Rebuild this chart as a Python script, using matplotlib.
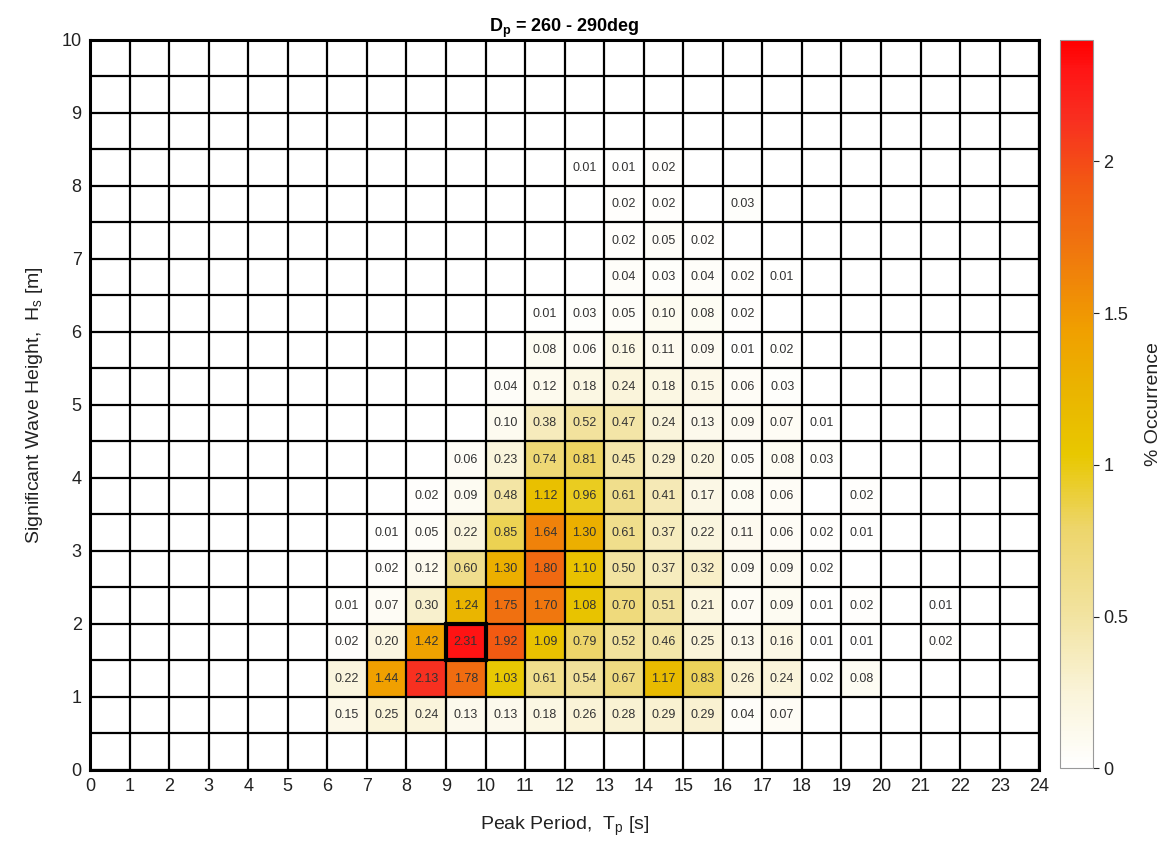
import matplotlib
matplotlib.use("Agg")
import matplotlib.pyplot as plt
import numpy as np
from matplotlib.colors import LinearSegmentedColormap
from matplotlib.patches import Rectangle

plt.rcParams['font.family'] = ['Liberation Sans Narrow', 'Liberation Sans', 'DejaVu Sans']

# bins
tp_edges = np.arange(0, 25, 1)
hs_edges = np.arange(0, 10.5, 0.5)
tp_first = 6  # first Tp bin that appears in the rows below
hs_first = 0.5

# % occurrence, one list per Hs bin (0.5 - 8.0 m), Tp bins 6..21 s
hs_050 = [0.15, 0.25, 0.24, 0.13, 0.13, 0.18, 0.26, 0.28, 0.29, 0.29, 0.04, 0.07, 0, 0, 0, 0]
hs_100 = [0.22, 1.44, 2.13, 1.78, 1.03, 0.61, 0.54, 0.67, 1.17, 0.83, 0.26, 0.24, 0.02, 0.08, 0, 0]
hs_150 = [0.02, 0.20, 1.42, 2.31, 1.92, 1.09, 0.79, 0.52, 0.46, 0.25, 0.13, 0.16, 0.01, 0.01, 0, 0.02]
hs_200 = [0.01, 0.07, 0.30, 1.24, 1.75, 1.70, 1.08, 0.70, 0.51, 0.21, 0.07, 0.09, 0.01, 0.02, 0, 0.01]
hs_250 = [0, 0.02, 0.12, 0.60, 1.30, 1.80, 1.10, 0.50, 0.37, 0.32, 0.09, 0.09, 0.02, 0, 0, 0]
hs_300 = [0, 0.01, 0.05, 0.22, 0.85, 1.64, 1.30, 0.61, 0.37, 0.22, 0.11, 0.06, 0.02, 0.01, 0, 0]
hs_350 = [0, 0, 0.02, 0.09, 0.48, 1.12, 0.96, 0.61, 0.41, 0.17, 0.08, 0.06, 0, 0.02, 0, 0]
hs_400 = [0, 0, 0, 0.06, 0.23, 0.74, 0.81, 0.45, 0.29, 0.20, 0.05, 0.08, 0.03, 0, 0, 0]
hs_450 = [0, 0, 0, 0, 0.10, 0.38, 0.52, 0.47, 0.24, 0.13, 0.09, 0.07, 0.01, 0, 0, 0]
hs_500 = [0, 0, 0, 0, 0.04, 0.12, 0.18, 0.24, 0.18, 0.15, 0.06, 0.03, 0, 0, 0, 0]
hs_550 = [0, 0, 0, 0, 0, 0.08, 0.06, 0.16, 0.11, 0.09, 0.01, 0.02, 0, 0, 0, 0]
hs_600 = [0, 0, 0, 0, 0, 0.01, 0.03, 0.05, 0.10, 0.08, 0.02, 0, 0, 0, 0, 0]
hs_650 = [0, 0, 0, 0, 0, 0, 0, 0.04, 0.03, 0.04, 0.02, 0.01, 0, 0, 0, 0]
hs_700 = [0, 0, 0, 0, 0, 0, 0, 0.02, 0.05, 0.02, 0, 0, 0, 0, 0, 0]
hs_750 = [0, 0, 0, 0, 0, 0, 0, 0.02, 0.02, 0, 0.03, 0, 0, 0, 0, 0]
hs_800 = [0, 0, 0, 0, 0, 0, 0.01, 0.01, 0.02, 0, 0, 0, 0, 0, 0, 0]

rows = [hs_050, hs_100, hs_150, hs_200, hs_250, hs_300, hs_350, hs_400,
        hs_450, hs_500, hs_550, hs_600, hs_650, hs_700, hs_750, hs_800]

nx = len(tp_edges) - 1
ny = len(hs_edges) - 1
occ = np.zeros((ny, nx))
r0 = int(round(hs_first / 0.5))
for i, r in enumerate(rows):
    occ[r0 + i, tp_first:tp_first + len(r)] = r

cmap = LinearSegmentedColormap.from_list("occ", [
    (0.0, "#ffffff"),
    (0.1, "#faf4da"),
    (0.21, "#f2e3a0"),
    (0.33, "#edd56a"),
    (0.43, "#e8c800"),
    (0.52, "#eab400"),
    (0.6, "#f0a000"),
    (0.73, "#f07010"),
    (0.8, "#f25a12"),
    (0.89, "#f83020"),
    (0.96, "#ff1515"),
    (1.0, "#ff0000"),
])
vmax = 2.4

fig = plt.figure(figsize=(11.65, 8.48), dpi=100)
ax = fig.add_axes([0.0773, 0.092, 0.8147, 0.861])
cax = fig.add_axes([0.910, 0.094, 0.028, 0.859])

masked = np.ma.masked_equal(occ, 0)
mesh = ax.pcolormesh(tp_edges, hs_edges, masked, cmap=cmap, vmin=0, vmax=vmax,
                     edgecolors='none')

for x in tp_edges:
    ax.axvline(x, color='black', lw=1.6, zorder=3)
for y in hs_edges:
    ax.axhline(y, color='black', lw=1.6, zorder=3)

for j in range(ny):
    for i in range(nx):
        v = occ[j, i]
        if v > 0:
            ax.text(tp_edges[i] + 0.5, hs_edges[j] + 0.25, f"{v:.2f}",
                    ha='center', va='center', fontsize=9, color='#333333',
                    family=['Liberation Sans', 'DejaVu Sans'], zorder=4)

# thick box around the peak cell
jm, im = np.unravel_index(np.argmax(occ), occ.shape)
ax.add_patch(Rectangle((tp_edges[im], hs_edges[jm]), 1, 0.5, fill=False,
                       ec='black', lw=3, zorder=5))

ax.set_xlim(0, 24)
ax.set_ylim(0, 10)
ax.set_xticks(np.arange(0, 25, 1))
ax.set_yticks(np.arange(0, 11, 1))
ax.tick_params(labelsize=13, length=0, pad=6, colors='#222222')
for s in ax.spines.values():
    s.set_linewidth(2.2)

ax.set_title(r"D$_\mathregular{p}$ = 260 - 290deg", fontsize=13, fontweight='bold', pad=6,
             family=['Liberation Sans', 'DejaVu Sans'])
ax.set_xlabel(r"Peak Period,  T$_\mathregular{p}$ [s]", fontsize=14, labelpad=14, color='#222222')
ax.set_ylabel(r"Significant Wave Height,  H$_\mathregular{s}$ [m]", fontsize=14, labelpad=12,
              color='#222222')

cb = fig.colorbar(mesh, cax=cax)
cb.set_ticks([0, 0.5, 1, 1.5, 2])
cb.set_ticklabels(['0', '0.5', '1', '1.5', '2'])
cb.ax.tick_params(labelsize=13, length=4, colors='#222222')
cb.outline.set_edgecolor('#999999')
cb.set_label("% Occurrence", fontsize=14, labelpad=12, color='#222222')

fig.savefig("out.png", dpi=100)
